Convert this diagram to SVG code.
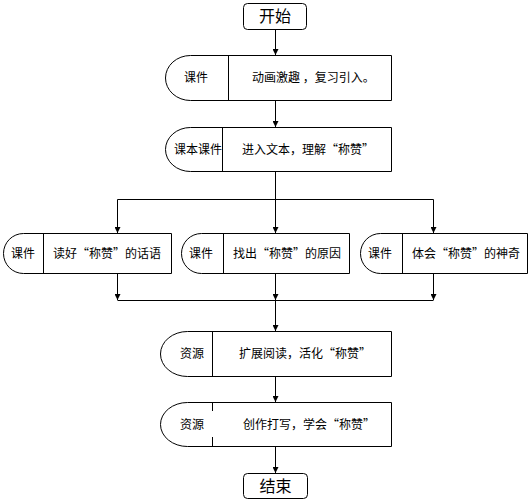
<svg xmlns="http://www.w3.org/2000/svg" width="531" height="504" viewBox="0 0 531 504">
<style>
.shape{fill:#fff;stroke:#000;stroke-width:1}
.ln{fill:none;stroke:#000;stroke-width:1}
.t{font-family:"Noto Sans CJK SC","Noto Sans",sans-serif;font-size:12px;fill:#000}
.big{font-family:"Noto Sans CJK SC","Noto Sans",sans-serif;font-size:16px;fill:#000;text-anchor:middle}
.c{text-anchor:middle}
</style>
<defs>
<marker id="ah" viewBox="0 0 6 6" refX="6" refY="3" markerWidth="6" markerHeight="6" markerUnits="userSpaceOnUse" orient="auto">
<path d="M0,0 L6,3 L0,6 z" fill="#000"/>
</marker>
</defs>
<rect width="531" height="504" fill="#fff"/>
<g id="connectors">
<path class="ln" d="M275.5 29 V55" marker-end="url(#ah)"/>
<path class="ln" d="M275.5 100 V127" marker-end="url(#ah)"/>
<path class="ln" d="M275.5 171 V199.5"/>
<path class="ln" d="M117.5 199.5 H433.5"/>
<path class="ln" d="M117.5 199.5 V233" marker-end="url(#ah)"/>
<path class="ln" d="M275.5 199.5 V233" marker-end="url(#ah)"/>
<path class="ln" d="M433.5 199.5 V233" marker-end="url(#ah)"/>
<path class="ln" d="M117.5 273 V300" marker-end="url(#ah)"/>
<path class="ln" d="M275.5 273 V300" marker-end="url(#ah)"/>
<path class="ln" d="M433.5 273 V300" marker-end="url(#ah)"/>
<path class="ln" d="M117.5 300.5 H433.5"/>
<path class="ln" d="M275.5 300.5 V331" marker-end="url(#ah)"/>
<path class="ln" d="M275.5 376 V402" marker-end="url(#ah)"/>
<path class="ln" d="M275.5 446 V473" marker-end="url(#ah)"/>
</g>
<g id="start">
<rect class="shape" x="243.5" y="3.5" width="63" height="26" rx="4"/>
<text class="big" x="275" y="22">开始</text>
</g>
<g id="n1">
<path class="shape" d="M391.5 55.5 H190.5 A25 22.5 0 0 0 190.5 100.5 H391.5 Z"/>
<path class="ln" d="M228.5 55.5 V100.5"/>
<text class="t c" x="196" y="82">课件</text>
<text class="t" x="252" y="82">动画激趣 ，复习引入。</text>
</g>
<g id="n2">
<path class="shape" d="M391.5 127.5 H190.5 A25 22 0 0 0 190.5 171.5 H391.5 Z"/>
<path class="ln" d="M222.5 127.5 V171.5"/>
<text class="t" x="174" y="154">课本课件</text>
<text class="t" x="242" y="154">进入文本，理解“称赞”</text>
</g>
<g id="n3">
<path class="shape" d="M171.5 233.5 H23.5 A20 20 0 0 0 23.5 273.5 H171.5 Z"/>
<path class="ln" d="M43.5 233.5 V273.5"/>
<text class="t c" x="23" y="258">课件</text>
<text class="t" x="53" y="258">读好“称赞”的话语</text>
</g>
<g id="n4">
<path class="shape" d="M349.5 233.5 H201.5 A20 20 0 0 0 201.5 273.5 H349.5 Z"/>
<path class="ln" d="M223.5 233.5 V273.5"/>
<text class="t c" x="201" y="258">课件</text>
<text class="t" x="233" y="258">找出“称赞”的原因</text>
</g>
<g id="n5">
<path class="shape" d="M527.5 233.5 H380.5 A20 20 0 0 0 380.5 273.5 H527.5 Z"/>
<path class="ln" d="M402.5 233.5 V273.5"/>
<text class="t c" x="380" y="258">课件</text>
<text class="t" x="412" y="258">体会“称赞”的神奇</text>
</g>
<g id="n6">
<path class="shape" d="M391.5 331.5 H187.5 A27 22.5 0 0 0 187.5 376.5 H391.5 Z"/>
<path class="ln" d="M212.5 331.5 V376.5"/>
<text class="t c" x="192" y="358">资源</text>
<text class="t" x="239" y="358">扩展阅读，活化“称赞”</text>
</g>
<g id="n7">
<path class="shape" d="M391.5 402.5 H187.5 A27 22 0 0 0 187.5 446.5 H391.5 Z"/>
<path class="ln" d="M212.5 402.5 V411 M212.5 437 V446.5"/>
<text class="t c" x="192" y="429">资源</text>
<text class="t" x="243" y="429">创作打写，学会“称赞”</text>
</g>
<g id="end">
<rect class="shape" x="243.5" y="473.5" width="64" height="25" rx="4"/>
<text class="big" x="275.5" y="492">结束</text>
</g>
</svg>
